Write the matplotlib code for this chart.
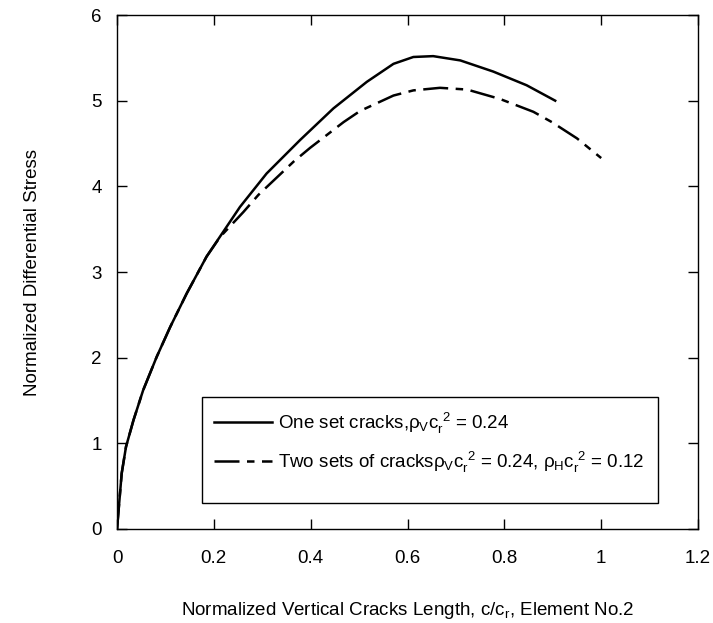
import matplotlib
matplotlib.use("Agg")
import matplotlib.pyplot as plt
from matplotlib.patches import Rectangle
from matplotlib.ticker import FixedLocator

plt.rcParams["font.family"] = ["Liberation Sans", "DejaVu Sans"]
plt.rcParams["mathtext.fontset"] = "custom"
plt.rcParams["mathtext.rm"] = "Liberation Sans"
plt.rcParams["mathtext.it"] = "Liberation Sans"
plt.rcParams["mathtext.bf"] = "Liberation Sans:bold"

FS = 13.5

# one set of vertical cracks
one_set_x = [0, 0.0097, 0.0186, 0.034, 0.054, 0.082, 0.110, 0.144, 0.185, 0.254,
             0.309, 0.378, 0.447, 0.516, 0.571, 0.612, 0.653, 0.709, 0.777, 0.846,
             0.905]
one_set_y = [0, 0.65, 0.96, 1.27, 1.62, 2.01, 2.36, 2.75, 3.18, 3.76,
             4.15, 4.54, 4.91, 5.22, 5.43, 5.51, 5.52, 5.47, 5.34, 5.18,
             5.00]

# vertical + horizontal cracks
two_sets_x = [0, 0.0097, 0.0186, 0.034, 0.054, 0.082, 0.110, 0.144, 0.185, 0.213,
              0.261, 0.292, 0.365, 0.399, 0.468, 0.502, 0.571, 0.612, 0.667, 0.723,
              0.791, 0.860, 0.898, 0.950, 1.0]
two_sets_y = [0, 0.65, 0.96, 1.27, 1.62, 2.01, 2.36, 2.75, 3.18, 3.41,
              3.70, 3.90, 4.29, 4.45, 4.75, 4.88, 5.06, 5.12, 5.15, 5.13,
              5.02, 4.87, 4.75, 4.56, 4.33]

x_ticks = [0, 0.2, 0.4, 0.6, 0.8, 1, 1.2]
x_tick_labels = ["0", "0.2", "0.4", "0.6", "0.8", "1", "1.2"]
y_ticks = [0, 1, 2, 3, 4, 5, 6]

label_one = r"One set cracks,$\rho_V c_r^{\ 2}$ = 0.24"
label_two = r"Two sets of cracks$\rho_V c_r^{\ 2}$ = 0.24, $\rho_H c_r^{\ 2}$ = 0.12"

fig = plt.figure(figsize=(7.13, 6.23), dpi=100)
ax = fig.add_axes([0.1641, 0.1509, 0.8149, 0.825])

ax.plot(one_set_x, one_set_y, color="black", lw=1.8, label=label_one)
ax.plot(two_sets_x, two_sets_y, color="black", lw=1.8,
        dashes=(10, 3, 3, 3), label=label_two)

ax.set_xlim(0, 1.2)
ax.set_ylim(0, 6)
ax.xaxis.set_major_locator(FixedLocator(x_ticks))
ax.set_xticklabels(x_tick_labels)
ax.yaxis.set_major_locator(FixedLocator(y_ticks))

ax.tick_params(direction="in", length=7, width=1, top=True, right=True,
               labelsize=FS)
ax.tick_params(axis="x", pad=15)
ax.tick_params(axis="y", pad=11)
for s in ax.spines.values():
    s.set_linewidth(1)

ax.set_xlabel(r"Normalized Vertical Cracks Length, c/c$_r$, Element No.2",
              fontsize=FS, labelpad=24)
ax.set_ylabel("Normalized Differential Stress", fontsize=FS, labelpad=36)

# legend entries without frame; box drawn separately
leg = ax.legend(loc="upper left", bbox_to_anchor=(0.167, 0.2305),
                fontsize=FS, frameon=False, handlelength=3.1,
                handletextpad=0.3, labelspacing=0.75, borderpad=0,
                borderaxespad=0)
ax.add_patch(Rectangle((0.1463, 0.0506), 0.7849, 0.2062, transform=ax.transAxes,
                       facecolor="none", edgecolor="black", lw=1, zorder=4))

fig.savefig("out.png", dpi=100)
